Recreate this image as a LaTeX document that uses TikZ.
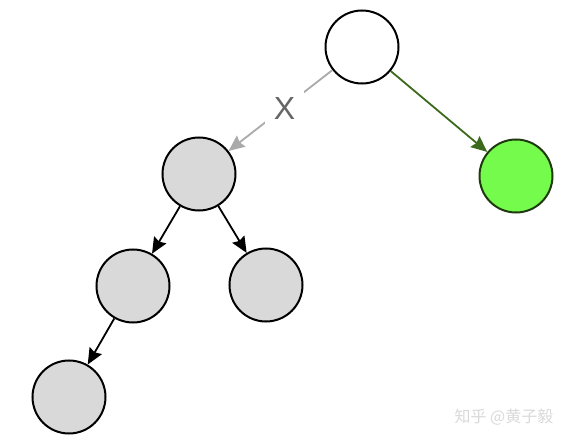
\documentclass[tikz,border=0pt]{standalone}
\usepackage{fontspec}
\setmainfont{Liberation Sans}
\newfontfamily\cjk{Noto Sans CJK SC}
\usetikzlibrary{arrows.meta}
\definecolor{grayfill}{HTML}{D9D9D9}
\definecolor{greenfill}{HTML}{74FB4B}
\definecolor{greenline}{HTML}{3C6A1C}
\definecolor{greenborder}{HTML}{1E3A0E}
\definecolor{grayline}{HTML}{AAAAAA}
\definecolor{xtext}{HTML}{666666}
\tikzset{
  treenode/.style={circle, draw=black, line width=2pt, minimum size=73pt, inner sep=0pt},
  graynode/.style={treenode, fill=grayfill},
  greennode/.style={treenode, fill=greenfill, draw=greenborder},
  edge/.style={line width=1.8pt, -{Stealth[length=16pt,width=14pt,inset=2pt]}},
}
\begin{document}
\begin{tikzpicture}[x=1pt,y=-1pt]
\useasboundingbox (0,0) rectangle (574,444);
\node[treenode] (root) at (362,47) {};
\node[graynode] (a) at (199,174) {};
\node[greennode] (g) at (516,176) {};
\node[graynode] (b) at (133,286) {};
\node[graynode] (c) at (266,285) {};
\node[graynode] (d) at (69,397) {};
\draw[edge, draw=grayline, fill=grayline] (root) -- node[fill=white, inner sep=9pt, text=xtext, font=\fontsize{32}{32}\selectfont, xshift=4pt, yshift=2pt] (xlab) {X} (a);
\draw[edge, draw=greenline, fill=greenline] (root) -- (g);
\draw[edge] (a) -- (b);
\draw[edge] (a) -- (c);
\draw[edge] (b) -- (d);
\node[text=gray!30, font=\cjk\fontsize{16}{16}\selectfont, anchor=center] (wm) at (504,417) {知乎 @黄子毅};
\end{tikzpicture}
\end{document}
